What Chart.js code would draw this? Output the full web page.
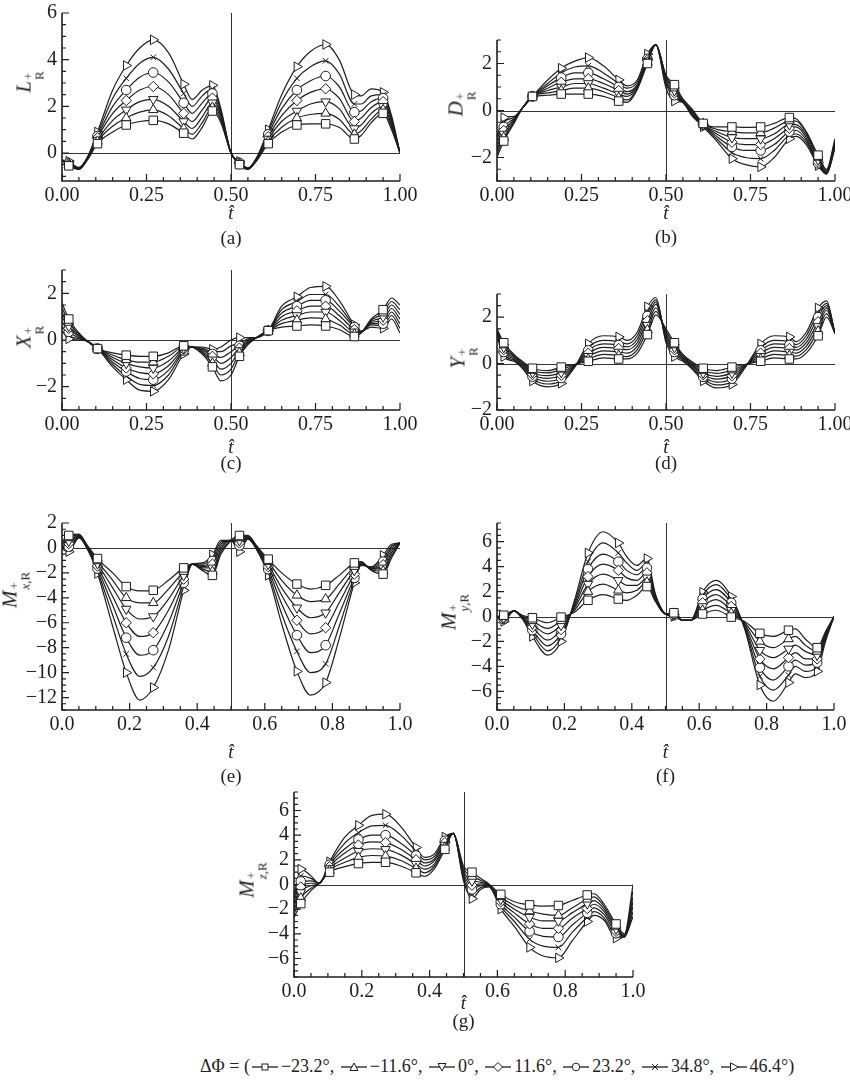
<!DOCTYPE html>
<html>
<head>
<meta charset="utf-8">
<script src="https://cdn.jsdelivr.net/npm/chart.js@4.4.1/dist/chart.umd.min.js"></script>
<style>
  body { margin: 0; background: #fff; width: 850px; height: 1081px; position: relative; overflow: hidden;
         font-family: 'Liberation Serif', 'Times New Roman', serif; color: #222; }
  canvas { position: absolute; }
  .lbl { position: absolute; transform: translate(-50%, -50%); font-size: 19px; white-space: nowrap; }
  .yl { position: absolute; transform: translate(-50%, -50%) rotate(-90deg); font-size: 21px; white-space: nowrap; }
  .st { display: inline-flex; flex-direction: column; font-size: 13px; line-height: 11px; vertical-align: -2px; margin-left: 1px; }
  #legend { position: absolute; left: 200px; top: 1056px; font-size: 18px; white-space: nowrap; }
  #legend svg { vertical-align: -1px; margin: 0 3px 0 2px; }
</style>
</head>
<body>
<div id="legend"></div>
<script>
// sample times (hat t) shared by every panel
const T = [0, 0.02, 0.05, 0.075, 0.105, 0.15, 0.19, 0.23, 0.27, 0.315, 0.36, 0.385, 0.415, 0.445, 0.47,
           0.5, 0.525, 0.55, 0.575, 0.61, 0.65, 0.695, 0.735, 0.78, 0.82, 0.865, 0.885, 0.915, 0.95, 0.975, 1.0];
// indexes of T where the markers sit
const MARK_IDX = [1, 4, 6, 8, 10, 13, 16, 19, 21, 23, 25, 28];
const PHASES = ['\u221223.2°', '\u221211.6°', '0°', '11.6°', '23.2°', '34.8°', '46.4°'];

const X_TICKS_Q = [0, 0.25, 0.5, 0.75, 1];
const X_TICKS_F = [0, 0.2, 0.4, 0.6, 0.8, 1];
const Y_TICKS_A = [0, 2, 4, 6];
const Y_TICKS_B = [-2, 0, 2];
const Y_TICKS_E = [-12, -10, -8, -6, -4, -2, 0, 2];
const Y_TICKS_F = [-6, -4, -2, 0, 2, 4, 6];

// (a) L_R
const liftL = [
  [-0.3,-0.55,-0.7,-0.3,0.4, 0.9,1.2,1.35,1.4,1.25, 0.85,0.6,1.1,1.8,1.3, 0,-0.5,-0.7,-0.35,0.4, 0.9,1.2,1.25,1.25,1.1, 0.6,0.75,1.3,1.7,1.0, 0],
  [-0.3,-0.52,-0.7,-0.28,0.5, 1.15,1.5,1.75,1.85,1.6, 1.05,0.8,1.3,1.95,1.4, 0,-0.48,-0.7,-0.33,0.5, 1.1,1.5,1.65,1.7,1.45, 0.8,0.95,1.45,1.85,1.1, 0],
  [-0.3,-0.5,-0.69,-0.26,0.55, 1.4,1.85,2.2,2.3,2.0, 1.35,1.05,1.55,2.15,1.5, 0,-0.46,-0.69,-0.3,0.6, 1.35,1.8,2.1,2.2,1.9, 1.05,1.2,1.7,2.0,1.2, 0],
  [-0.3,-0.47,-0.68,-0.24,0.65, 1.7,2.25,2.7,2.85,2.5, 1.7,1.35,1.85,2.35,1.6, 0,-0.44,-0.68,-0.28,0.7, 1.6,2.25,2.6,2.75,2.35, 1.35,1.5,1.95,2.2,1.3, 0],
  [-0.3,-0.44,-0.66,-0.22,0.72, 2.0,2.7,3.25,3.45,3.05, 2.15,1.7,2.15,2.55,1.7, 0,-0.42,-0.67,-0.26,0.8, 1.9,2.7,3.1,3.3,2.85, 1.75,1.8,2.2,2.35,1.4, 0],
  [-0.3,-0.4,-0.64,-0.2,0.8, 2.35,3.2,3.85,4.1,3.6, 2.55,2.0,2.45,2.75,1.8, 0,-0.4,-0.66,-0.24,0.9, 2.2,3.2,3.7,3.95,3.4, 2.1,2.1,2.45,2.5,1.5, 0],
  [-0.3,-0.35,-0.62,-0.18,0.9, 2.7,3.75,4.5,4.85,4.3, 2.95,2.3,2.7,2.9,1.9, 0,-0.36,-0.64,-0.22,1.0, 2.5,3.7,4.35,4.65,4.0, 2.5,2.45,2.75,2.6,1.6, 0]
];
// (b) D_R
const dragD = [
  [-2.0,-1.3,-0.55,0.1,0.6, 0.65,0.7,0.7,0.7,0.6, 0.4,0.35,0.9,2.0,2.8, 1.5,1.1,0.5,0.1,-0.55, -0.7,-0.7,-0.72,-0.7,-0.55, -0.3,-0.35,-0.9,-1.9,-2.5, -1.2],
  [-1.85,-1.15,-0.5,0.1,0.6, 0.75,0.85,0.95,0.95,0.8, 0.55,0.45,0.95,2.05,2.8, 1.45,0.95,0.45,0.05,-0.55, -0.8,-0.9,-0.95,-0.95,-0.75, -0.45,-0.45,-0.95,-2.0,-2.55, -1.3],
  [-1.7,-1.0,-0.45,0.1,0.6, 0.85,1.0,1.15,1.15,0.95, 0.7,0.6,1.0,2.1,2.8, 1.4,0.85,0.4,0.0,-0.6, -0.9,-1.15,-1.2,-1.2,-1.0, -0.6,-0.6,-1.05,-2.1,-2.6, -1.35],
  [-1.55,-0.85,-0.4,0.1,0.6, 0.95,1.2,1.35,1.35,1.15, 0.85,0.7,1.05,2.15,2.8, 1.3,0.75,0.35,-0.05,-0.6, -1.0,-1.35,-1.45,-1.45,-1.2, -0.75,-0.7,-1.15,-2.2,-2.6, -1.4],
  [-1.4,-0.7,-0.35,0.1,0.6, 1.05,1.4,1.6,1.6,1.35, 1.0,0.8,1.1,2.2,2.8, 1.2,0.65,0.35,-0.1,-0.6, -1.1,-1.55,-1.7,-1.7,-1.45, -0.9,-0.85,-1.25,-2.25,-2.65, -1.5],
  [-1.25,-0.5,-0.3,0.1,0.6, 1.15,1.6,1.85,1.9,1.6, 1.15,0.95,1.2,2.3,2.8, 1.1,0.55,0.35,-0.15,-0.65, -1.2,-1.8,-2.0,-2.05,-1.7, -1.05,-1.0,-1.35,-2.3,-2.7, -1.55],
  [-1.1,-0.3,-0.25,0.1,0.6, 1.3,1.8,2.1,2.25,1.9, 1.3,1.05,1.3,2.4,2.8, 0.95,0.4,0.35,-0.2,-0.7, -1.3,-2.05,-2.3,-2.4,-2.0, -1.2,-1.1,-1.45,-2.35,-2.7, -1.6]
];
// (c) X_R
const forceX = [
  [1.6,0.9,0.3,-0.05,-0.37, -0.55,-0.65,-0.7,-0.7,-0.55, -0.25,-0.3,-0.6,-1.15,-1.75, -1.5,-0.7,-0.2,0.1,0.4, 0.55,0.6,0.65,0.6,0.45, 0.15,0.3,0.9,1.3,1.8, 1.5],
  [1.4,0.75,0.25,-0.05,-0.37, -0.65,-0.85,-0.95,-0.95,-0.7, -0.3,-0.3,-0.55,-1.0,-1.5, -1.25,-0.55,-0.15,0.1,0.4, 0.7,0.85,0.95,0.9,0.65, 0.25,0.32,0.85,1.15,1.65, 1.3],
  [1.2,0.6,0.2,-0.05,-0.37, -0.75,-1.0,-1.15,-1.2,-0.9, -0.35,-0.3,-0.5,-0.85,-1.25, -1.0,-0.45,-0.1,0.1,0.4, 0.85,1.05,1.2,1.2,0.85, 0.35,0.34,0.8,1.0,1.5, 1.1],
  [1.0,0.5,0.15,-0.05,-0.37, -0.85,-1.2,-1.4,-1.45,-1.1, -0.4,-0.3,-0.45,-0.7,-1.0, -0.75,-0.35,-0.05,0.1,0.4, 1.0,1.25,1.45,1.45,1.05, 0.45,0.35,0.75,0.85,1.35, 0.9],
  [0.8,0.35,0.1,-0.05,-0.37, -0.95,-1.35,-1.65,-1.7,-1.3, -0.45,-0.3,-0.4,-0.6,-0.75, -0.5,-0.25,0.0,0.1,0.4, 1.15,1.45,1.7,1.7,1.25, 0.55,0.36,0.7,0.7,1.2, 0.7],
  [0.6,0.2,0.05,-0.05,-0.37, -1.05,-1.55,-1.9,-1.95,-1.5, -0.5,-0.3,-0.35,-0.5,-0.5, -0.25,-0.15,0.05,0.1,0.4, 1.3,1.65,1.95,1.95,1.45, 0.6,0.37,0.65,0.6,1.05, 0.5],
  [0.4,0.05,0.0,-0.05,-0.37, -1.15,-1.7,-2.15,-2.2,-1.7, -0.6,-0.3,-0.3,-0.4,-0.3, 0.0,0.1,0.1,0.1,0.4, 1.45,1.85,2.25,2.3,1.7, 0.65,0.38,0.55,0.5,0.9, 0.3]
];
// (d) Y_R
const forceY = [
  [1.5,0.9,0.4,0.1,-0.2, -0.3,-0.15,-0.03,0.1,0.25, 0.2,0.2,0.45,1.25,2.1, 1.5,0.9,0.4,0.1,-0.2, -0.3,-0.15,-0.03,0.1,0.25, 0.2,0.2,0.45,1.2,2.0, 1.3],
  [1.45,0.8,0.35,0.05,-0.3, -0.4,-0.25,-0.05,0.2,0.4, 0.35,0.3,0.6,1.45,2.25, 1.4,0.8,0.35,0.05,-0.3, -0.42,-0.28,-0.05,0.2,0.4, 0.35,0.32,0.6,1.4,2.15, 1.3],
  [1.4,0.7,0.3,0.0,-0.38, -0.52,-0.38,-0.07,0.32,0.55, 0.5,0.45,0.75,1.65,2.4, 1.3,0.7,0.3,0.0,-0.4, -0.55,-0.4,-0.07,0.32,0.55, 0.5,0.45,0.75,1.6,2.3, 1.3],
  [1.35,0.6,0.25,-0.05,-0.47, -0.64,-0.5,-0.09,0.45,0.7, 0.65,0.6,0.9,1.85,2.55, 1.2,0.6,0.25,-0.05,-0.48, -0.67,-0.52,-0.09,0.45,0.7, 0.65,0.58,0.9,1.8,2.4, 1.3],
  [1.3,0.5,0.2,-0.1,-0.56, -0.76,-0.62,-0.11,0.57,0.85, 0.8,0.72,1.05,2.05,2.65, 1.1,0.5,0.2,-0.1,-0.57, -0.8,-0.65,-0.11,0.57,0.85, 0.8,0.7,1.05,2.0,2.5, 1.3],
  [1.25,0.4,0.15,-0.15,-0.65, -0.88,-0.74,-0.13,0.7,1.0, 0.95,0.85,1.2,2.25,2.75, 1.0,0.4,0.15,-0.15,-0.66, -0.92,-0.78,-0.13,0.7,1.0, 0.95,0.82,1.2,2.2,2.6, 1.3],
  [1.2,0.3,0.1,-0.2,-0.75, -1.0,-0.85,-0.15,0.85,1.2, 1.15,1.0,1.35,2.45,2.85, 0.9,0.3,0.1,-0.2,-0.75, -1.05,-0.9,-0.15,0.85,1.2, 1.15,0.95,1.35,2.4,2.7, 1.3]
];
// (e) M_x,R
const momentX = [
  [0.5,1.0,1.1,0.2,-0.85, -2.0,-3.1,-3.45,-3.4,-2.6, -1.6,-1.3,-1.8,-2.2,-0.5, 0.6,1.0,1.0,0.2,-0.9, -2.0,-2.9,-3.3,-3.0,-2.2, -1.2,-1.1,-1.8,-2.1,-0.8, 0.4],
  [0.4,0.8,1.05,0.15,-1.05, -2.6,-4.0,-4.4,-4.4,-3.3, -1.9,-1.3,-1.7,-1.9,-0.3, 0.6,0.8,0.95,0.15,-1.1, -2.6,-3.8,-4.3,-4.1,-2.9, -1.5,-1.15,-1.75,-1.85,-0.6, 0.4],
  [0.3,0.55,1.0,0.1,-1.25, -3.2,-4.9,-5.7,-5.5,-4.1, -2.2,-1.3,-1.6,-1.6,-0.1, 0.6,0.6,0.9,0.1,-1.3, -3.2,-4.8,-5.6,-5.2,-3.6, -1.8,-1.2,-1.7,-1.6,-0.4, 0.4],
  [0.2,0.35,0.95,0.05,-1.45, -3.9,-6.0,-7.1,-6.8,-5.0, -2.5,-1.3,-1.5,-1.3,0.1, 0.6,0.4,0.85,0.05,-1.5, -3.8,-5.8,-6.9,-6.4,-4.4, -2.1,-1.25,-1.65,-1.35,-0.2, 0.4],
  [0.1,0.1,0.9,0.0,-1.65, -4.6,-7.2,-8.6,-8.2,-6.0, -2.8,-1.3,-1.4,-1.05,0.3, 0.6,0.2,0.8,0.0,-1.7, -4.5,-7.0,-8.4,-7.8,-5.3, -2.4,-1.3,-1.6,-1.1,0.0, 0.4],
  [0.0,-0.1,0.85,-0.05,-1.85, -5.4,-8.5,-10.3,-9.6,-7.1, -3.1,-1.3,-1.3,-0.8,0.45, 0.6,0.0,0.75,-0.05,-1.95, -5.3,-8.3,-10.0,-9.3,-6.3, -2.6,-1.35,-1.55,-0.85,0.15, 0.4],
  [-0.1,-0.3,0.8,-0.1,-2.05, -6.3,-10.0,-12.2,-11.2,-8.2, -3.4,-1.3,-1.2,-0.55,0.6, 0.6,-0.3,0.7,-0.1,-2.2, -6.1,-9.9,-11.8,-10.8,-7.3, -2.8,-1.4,-1.5,-0.6,0.3, 0.4]
];
// (f) M_y,R
const momentY = [
  [0.0,0.1,0.45,0.1,-0.1, -0.5,-0.05,0.35,1.3,1.75, 1.4,1.3,1.7,2.4,1.2, 0.2,0.3,-0.3,-0.3,0.2, 0.5,-0.05,-0.4,-1.35,-1.6, -1.1,-1.0,-1.8,-2.5,-1.2, 0.0],
  [0.0,0.0,0.45,0.05,-0.35, -0.95,-0.35,0.5,2.0,2.6, 2.1,1.9,2.1,2.75,1.3, 0.2,0.25,-0.3,-0.3,0.5, 0.9,0.25,-0.5,-2.0,-2.5, -1.8,-1.6,-2.3,-2.8,-1.3, 0.0],
  [0.0,-0.1,0.45,0.0,-0.6, -1.4,-0.7,0.65,2.6,3.4, 2.9,2.5,2.5,3.1,1.4, 0.2,0.2,-0.3,-0.3,0.8, 1.35,0.5,-0.6,-2.7,-3.3, -2.6,-2.3,-2.8,-3.1,-1.4, 0.0],
  [0.0,-0.15,0.45,-0.05,-0.85, -1.9,-1.05,0.8,3.2,4.2, 3.7,3.1,2.9,3.5,1.5, 0.2,0.15,-0.3,-0.3,1.1, 1.75,0.8,-0.7,-3.4,-4.2, -3.3,-2.9,-3.4,-3.4,-1.5, 0.0],
  [0.0,-0.2,0.45,-0.1,-1.1, -2.35,-1.4,0.95,3.8,5.0, 4.4,3.7,3.35,3.9,1.6, 0.2,0.1,-0.3,-0.3,1.4, 2.15,1.1,-0.8,-4.1,-5.1, -4.0,-3.5,-3.9,-3.7,-1.7, 0.0],
  [0.0,-0.3,0.45,-0.15,-1.35, -2.75,-1.7,1.1,4.4,5.9, 5.1,4.3,3.7,4.25,1.7, 0.2,0.05,-0.3,-0.3,1.7, 2.55,1.35,-0.9,-4.8,-5.9, -4.7,-4.0,-4.4,-4.0,-1.8, 0.0],
  [0.0,-0.4,0.45,-0.2,-1.6, -3.1,-2.0,1.3,5.1,6.8, 5.9,4.8,4.1,4.65,1.8, 0.2,0.0,-0.3,-0.3,1.95, 2.9,1.6,-1.0,-5.5,-6.8, -5.3,-4.6,-4.9,-4.4,-2.0, 0.0]
];
// (g) M_z,R
const momentZ = [
  [-2.7,-1.55,-0.5,0.1,1.0, 1.45,1.7,1.8,1.8,1.5, 0.95,0.65,1.3,2.85,4.15, 1.5,1.0,0.5,0.05,-0.8, -1.4,-1.65,-1.75,-1.7,-1.3, -0.85,-0.75,-1.6,-3.2,-4.0, 0.0],
  [-2.4,-1.1,-0.3,0.1,1.15, 1.8,2.2,2.35,2.3,1.95, 1.3,0.95,1.5,3.0,4.15, 1.3,0.65,0.35,0.0,-1.0, -1.7,-2.15,-2.4,-2.5,-1.9, -1.2,-1.0,-1.8,-3.4,-4.1, -0.5],
  [-2.1,-0.65,-0.1,0.1,1.3, 2.15,2.7,2.9,2.85,2.4, 1.65,1.25,1.7,3.2,4.15, 1.1,0.3,0.2,-0.05,-1.2, -2.0,-2.65,-2.95,-2.95,-2.3, -1.55,-1.3,-2.0,-3.6,-4.15, -1.0],
  [-1.8,-0.2,0.1,0.1,1.45, 2.55,3.2,3.45,3.4,2.85, 2.0,1.5,1.95,3.4,4.15, 0.9,-0.05,0.05,-0.1,-1.4, -2.3,-3.2,-3.55,-3.55,-2.75, -1.95,-1.6,-2.2,-3.8,-4.2, -1.4],
  [-1.5,0.25,0.3,0.1,1.6, 2.9,3.65,4.0,4.0,3.35, 2.35,1.75,2.1,3.55,4.15, 0.7,-0.4,-0.1,-0.1,-1.6, -2.65,-3.8,-4.2,-4.25,-3.3, -2.3,-1.9,-2.45,-3.95,-4.2, -1.8],
  [-1.2,0.7,0.5,0.1,1.7, 3.35,4.2,4.75,4.8,4.0, 2.7,2.0,2.3,3.7,4.15, 0.5,-0.8,-0.25,-0.15,-1.8, -3.0,-4.45,-5.0,-5.1,-3.9, -2.65,-2.2,-2.7,-4.15,-4.25, -2.2],
  [-0.9,1.25,0.7,0.1,1.85, 3.85,4.8,5.6,5.7,4.7, 3.0,2.2,2.5,3.85,4.15, 0.3,-1.15,-0.4,-0.2,-2.0, -3.4,-5.1,-5.8,-5.95,-4.6, -3.0,-2.5,-2.9,-4.35,-4.25, -2.6]
];

// marker look for each phase offset
const MARKER = [
  { style: 'rect', rot: 0, r: 6 },
  { style: 'triangle', rot: 0, r: 5.5 },
  { style: 'triangle', rot: 180, r: 5.5 },
  { style: 'rectRot', rot: 0, r: 5.2 },
  { style: 'circle', rot: 0, r: 4.8 },
  { style: 'crossRot', rot: 0, r: 4 },
  { style: 'triangle', rot: 90, r: 5.5 }
];

const PANELS = [
  { data: liftL,   pl: 62,  pr: 400, pt: 8,   pb: 181, ymin: -1.2, ymax: 6,   yTicks: Y_TICKS_A, xTicks: X_TICKS_Q, dec: 2, sym: 'L', sub: 'R',          cap: '(a)', tY: 213,  cY: 238,  yx: 28,  yy: 82 },
  { data: dragD,   pl: 497, pr: 835, pt: 35,  pb: 181, ymin: -3,   ymax: 3,   yTicks: Y_TICKS_B, xTicks: X_TICKS_Q, dec: 2, sym: 'D', sub: 'R',          cap: '(b)', tY: 213,  cY: 237,  yx: 460, yy: 104 },
  { data: forceX,  pl: 62,  pr: 400, pt: 265, pb: 410, ymin: -3,   ymax: 3,   yTicks: Y_TICKS_B, xTicks: X_TICKS_Q, dec: 2, sym: 'X', sub: 'R',          cap: '(c)', tY: 447,  cY: 463,  yx: 28,  yy: 337 },
  { data: forceY,  pl: 497, pr: 835, pt: 289, pb: 410, ymin: -2,   ymax: 3,   yTicks: Y_TICKS_B, xTicks: X_TICKS_Q, dec: 2, sym: 'Y', sub: 'R',          cap: '(d)', tY: 447,  cY: 463,  yx: 462, yy: 358 },
  { data: momentX, pl: 62,  pr: 400, pt: 518, pb: 710, ymin: -13,  ymax: 2,   yTicks: Y_TICKS_E, xTicks: X_TICKS_F, dec: 1, sym: 'M', sub: '<i>x</i>,R', cap: '(e)', tY: 752,  cY: 776,  yx: 14,  yy: 590 },
  { data: momentY, pl: 497, pr: 834, pt: 518, pb: 710, ymin: -7.5, ymax: 7.5, yTicks: Y_TICKS_F, xTicks: X_TICKS_F, dec: 1, sym: 'M', sub: '<i>y</i>,R', cap: '(f)', tY: 752,  cY: 776,  yx: 453, yy: 612 },
  { data: momentZ, pl: 294, pr: 633, pt: 787, pb: 977, ymin: -7.5, ymax: 7.5, yTicks: Y_TICKS_F, xTicks: X_TICKS_F, dec: 1, sym: 'M', sub: '<i>z</i>,R', cap: '(g)', tY: 1003, cY: 1021, yx: 251, yy: 880 }
];

const FONT = { family: "'Liberation Serif', 'Times New Roman', serif", size: 20 };
const INK = '#1e1e1e';
Chart.defaults.font.family = FONT.family;

function fmt(v, dec) {
  const s = Math.abs(v).toFixed(dec);
  return (v < -1e-9 ? '\u2212' : '') + s;
}

// axes, zero line, t=0.5 line and inward ticks
const frame = {
  id: 'frame',
  beforeDatasetsDraw(chart, args, o) {
    const { ctx, chartArea: a, scales: { x, y } } = chart;
    ctx.save();
    ctx.strokeStyle = '#333';
    ctx.lineWidth = 1;
    const y0 = Math.round(y.getPixelForValue(0)) + 0.5;
    const x5 = Math.round(x.getPixelForValue(0.5)) + 0.5;
    ctx.beginPath();
    ctx.moveTo(a.left, y0); ctx.lineTo(a.right, y0);
    ctx.moveTo(x5, a.top); ctx.lineTo(x5, a.bottom);
    ctx.stroke();

    ctx.strokeStyle = INK;
    ctx.lineWidth = 1.6;
    ctx.beginPath();
    ctx.moveTo(a.left, a.top); ctx.lineTo(a.left, a.bottom); ctx.lineTo(a.right, a.bottom);
    ctx.stroke();

    ctx.lineWidth = 1.2;
    ctx.beginPath();
    for (let i = 0; i <= 20; i++) {
      const v = i * 0.05;
      const px = x.getPixelForValue(v);
      const major = o.xMajor.some(m => Math.abs(m - v) < 1e-6);
      ctx.moveTo(px, a.bottom); ctx.lineTo(px, a.bottom - (major ? 7 : 4));
    }
    const k0 = Math.ceil(y.min / o.yMinor - 1e-6), k1 = Math.floor(y.max / o.yMinor + 1e-6);
    for (let k = k0; k <= k1; k++) {
      const v = k * o.yMinor;
      const py = y.getPixelForValue(v);
      const major = o.yMajor.some(m => Math.abs(m - v) < 1e-6);
      ctx.moveTo(a.left, py); ctx.lineTo(a.left + (major ? 7 : 4), py);
    }
    ctx.stroke();
    ctx.restore();
  }
};

function addText(cls, html, x, y) {
  const d = document.createElement('div');
  d.className = cls;
  d.innerHTML = html;
  d.style.left = x + 'px';
  d.style.top = y + 'px';
  document.body.appendChild(d);
}

PANELS.forEach(p => {
  const left = p.pl - 60, top = p.pt - 12;
  const w = p.pr - left + 22, h = p.pb - top + 28;
  const cv = document.createElement('canvas');
  cv.width = w; cv.height = h;
  cv.style.left = left + 'px'; cv.style.top = top + 'px';
  document.body.appendChild(cv);

  const datasets = p.data.map((arr, k) => ({
    label: PHASES[k],
    data: T.map((t, i) => ({ x: t, y: arr[i] })),
    borderColor: INK,
    borderWidth: 1.2,
    fill: false,
    cubicInterpolationMode: 'monotone',
    pointStyle: MARKER[k].style,
    pointRotation: MARKER[k].rot,
    pointRadius: T.map((t, i) => MARK_IDX.includes(i) ? MARKER[k].r : 0),
    pointBorderColor: INK,
    pointBackgroundColor: '#fff',
    pointBorderWidth: 1
  }));

  new Chart(cv, {
    type: 'line',
    data: { datasets },
    options: {
      responsive: false,
      animation: false,
      events: [],
      layout: { padding: { top: 12, right: 22, left: 0, bottom: 0 } },
      plugins: {
        legend: { display: false },
        tooltip: { enabled: false },
        frame: { xMajor: p.xTicks, yMajor: p.yTicks, yMinor: 0.5 }
      },
      scales: {
        x: {
          type: 'linear', min: 0, max: 1,
          grid: { display: false, drawTicks: false },
          border: { display: false },
          ticks: { padding: 3, font: FONT, color: INK, maxRotation: 0, autoSkip: false, callback: v => fmt(v, p.dec) },
          afterBuildTicks: s => { s.ticks = p.xTicks.map(v => ({ value: v })); },
          afterFit: s => { s.height = 28; }
        },
        y: {
          type: 'linear', min: p.ymin, max: p.ymax,
          grid: { display: false, drawTicks: false },
          border: { display: false },
          ticks: { padding: 5, font: FONT, color: INK, autoSkip: false, callback: v => fmt(v, 0) },
          afterBuildTicks: s => { s.ticks = p.yTicks.map(v => ({ value: v })); },
          afterFit: s => { s.width = 60; }
        }
      }
    },
    plugins: [frame]
  });

  const cx = (p.pl + p.pr) / 2;
  addText('lbl', '<i>t&#770;</i>', cx, p.tY);
  addText('lbl', p.cap, cx, p.cY);
  addText('yl', '<i>' + p.sym + '</i><span class="st"><span>+</span><span>' + p.sub + '</span></span>', p.yx, p.yy);
});

// legend row under the figure
const SYMBOLS = [
  '<rect x="10" y="3" width="6" height="6"/>',
  '<polygon points="13,2 17,9.5 9,9.5"/>',
  '<polygon points="13,10 17,2.5 9,2.5"/>',
  '<polygon points="13,1.5 17.5,6 13,10.5 8.5,6"/>',
  '<circle cx="13" cy="6" r="3.8"/>',
  '<path d="M10,3L16,9M16,3L10,9"/>',
  '<polygon points="17.5,6 9.5,1.8 9.5,10.2"/>'
];
const legend = document.getElementById('legend');
let html = '\u0394\u03A6 = (';
PHASES.forEach((ph, k) => {
  html += '<svg width="26" height="12" viewBox="0 0 26 12"><line x1="0" y1="6" x2="26" y2="6" stroke="' + INK + '" stroke-width="1.3"/>' +
          '<g fill="#fff" stroke="' + INK + '" stroke-width="1">' + SYMBOLS[k] + '</g></svg>' + ph +
          (k < PHASES.length - 1 ? ', ' : ')');
});
legend.innerHTML = html;
</script>
</body>
</html>
